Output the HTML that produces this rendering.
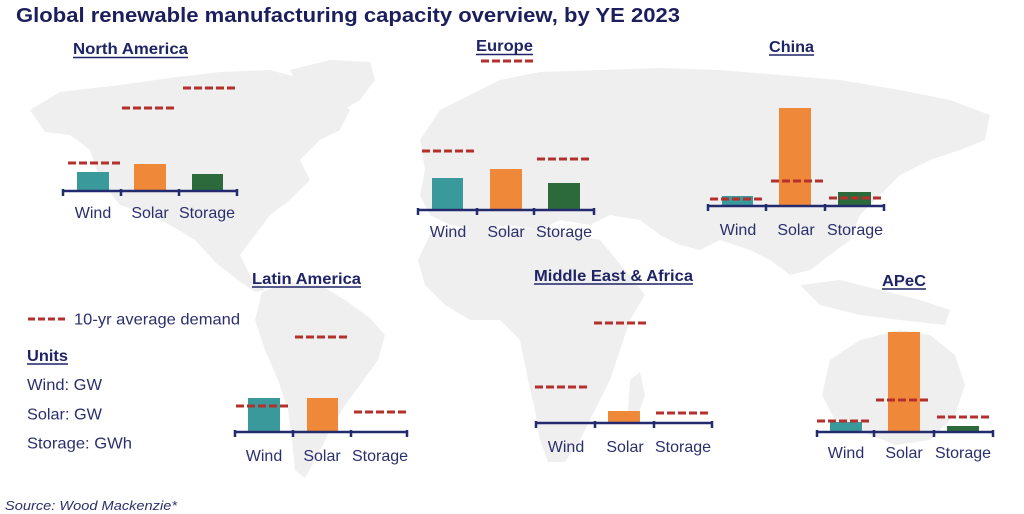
<!DOCTYPE html>
<html><head><meta charset="utf-8"><style>
html,body{margin:0;padding:0;background:#fff;}
svg{display:block;}
text{font-family:"Liberation Sans",Arial,sans-serif;}
</style></head><body>
<svg width="1024" height="514" viewBox="0 0 1024 514" xmlns="http://www.w3.org/2000/svg">
<rect width="1024" height="514" fill="#fff"/>
<!-- world map approximations -->
<g fill="#efefef">
  <!-- North America -->
  <path d="M30,110 L60,92 L120,85 L170,78 L220,72 L270,70 L300,78 L330,90 L350,110 L340,130 L320,140 L300,160 L310,180 L290,200 L270,215 L255,235 L240,255 L250,275 L265,290 L255,292 L235,278 L215,262 L195,240 L170,225 L150,215 L120,205 L100,180 L90,150 L70,135 L45,132 Z"/>
  <!-- Greenland -->
  <path d="M290,70 L330,60 L370,62 L375,80 L360,100 L335,115 L315,105 L300,90 Z"/>
  <!-- South America -->
  <path d="M262,292 L290,282 L320,285 L345,300 L370,318 L385,335 L378,360 L360,385 L345,405 L330,430 L318,455 L305,478 L295,470 L292,440 L288,410 L278,380 L265,350 L255,320 Z"/>
  <!-- Eurasia -->
  <path d="M420,140 L440,110 L470,95 L500,80 L540,72 L600,70 L660,68 L720,70 L780,75 L840,80 L900,90 L950,100 L990,115 L985,140 L960,150 L930,160 L900,175 L880,195 L860,215 L850,240 L830,255 L810,270 L790,275 L770,260 L750,250 L720,240 L700,250 L680,245 L660,235 L640,220 L610,215 L590,225 L560,220 L540,230 L510,225 L480,230 L450,225 L430,215 L420,195 L425,170 Z"/>
  <!-- Africa -->
  <path d="M430,235 L470,228 L520,228 L560,232 L600,240 L625,270 L645,295 L630,320 L620,350 L610,380 L595,410 L580,440 L565,462 L548,462 L540,440 L535,410 L528,380 L520,340 L500,320 L470,320 L445,305 L425,285 L418,260 Z"/>
  <!-- Madagascar -->
  <path d="M630,380 L640,372 L645,395 L636,420 L628,410 Z"/>
  <!-- SE Asia islands -->
  <path d="M800,285 L840,280 L880,290 L920,300 L950,310 L945,325 L900,320 L860,315 L820,305 Z"/>
  <!-- Australia -->
  <path d="M830,360 L860,340 L900,330 L930,335 L955,355 L965,385 L955,415 L930,440 L895,445 L860,430 L835,420 L822,395 Z"/>
</g>

<!-- Main title -->
<text x="16" y="22" font-size="20" font-weight="bold" fill="#1c1f5c" textLength="664" lengthAdjust="spacingAndGlyphs">Global renewable manufacturing capacity overview, by YE 2023</text>

<!-- Region titles -->
<g font-size="16" font-weight="bold" fill="#1f2466">
  <text x="73" y="54" textLength="115" lengthAdjust="spacingAndGlyphs">North America</text>
  <text x="476" y="51" textLength="57" lengthAdjust="spacingAndGlyphs">Europe</text>
  <text x="769" y="52" textLength="45" lengthAdjust="spacingAndGlyphs">China</text>
  <text x="252" y="284" textLength="109" lengthAdjust="spacingAndGlyphs">Latin America</text>
  <text x="534" y="281" textLength="159" lengthAdjust="spacingAndGlyphs">Middle East &amp; Africa</text>
  <text x="882" y="286" textLength="44" lengthAdjust="spacingAndGlyphs">APeC</text>
</g>
<g stroke="#1f2466" stroke-width="1.5">
  <line x1="73" y1="57.5" x2="188" y2="57.5"/>
  <line x1="476" y1="54.5" x2="533" y2="54.5"/>
  <line x1="769" y1="55" x2="814" y2="55"/>
  <line x1="252" y1="287" x2="361" y2="287"/>
  <line x1="534" y1="284" x2="693" y2="284"/>
  <line x1="882" y1="289" x2="926" y2="289"/>
</g>

<!-- Bars -->
<g>
  <rect x="77" y="172" width="32" height="18" fill="#3a9a9b"/>
  <rect x="134" y="164" width="32" height="26" fill="#f0883a"/>
  <rect x="192" y="174" width="31" height="16" fill="#2c6a3c"/>
  <rect x="432" y="178" width="31" height="31" fill="#3a9a9b"/>
  <rect x="490" y="169" width="32" height="40" fill="#f0883a"/>
  <rect x="548" y="183" width="32" height="26" fill="#2c6a3c"/>
  <rect x="722" y="196" width="31" height="9" fill="#3a9a9b"/>
  <rect x="779" y="108" width="32" height="97" fill="#f0883a"/>
  <rect x="838" y="192" width="33" height="13" fill="#2c6a3c"/>
  <rect x="248" y="398" width="32" height="33" fill="#3a9a9b"/>
  <rect x="307" y="398" width="31" height="33" fill="#f0883a"/>
  <rect x="608" y="411" width="32" height="11" fill="#f0883a"/>
  <rect x="830" y="422" width="32" height="9" fill="#3a9a9b"/>
  <rect x="888" y="332" width="32" height="99" fill="#f0883a"/>
  <rect x="947" y="426" width="32" height="5" fill="#2c6a3c"/>
</g>

<!-- Axes -->
<g stroke="#232a6e" stroke-width="2.5" fill="none">
  <path d="M63,191 H237 M63,189 V196 M121,189 V196 M179,189 V196 M237,189 V196"/>
  <path d="M418,210 H594 M418,208 V215 M477,208 V215 M534,208 V215 M594,208 V215"/>
  <path d="M708,206 H884 M708,204 V211 M766,204 V211 M825,204 V211 M884,204 V211"/>
  <path d="M235,432 H407 M235,430 V437 M293,430 V437 M351,430 V437 M407,430 V437"/>
  <path d="M536,423 H712 M536,421 V428 M595,421 V428 M654,421 V428 M712,421 V428"/>
  <path d="M817,432 H993 M817,430 V437 M874,430 V437 M934,430 V437 M993,430 V437"/>
</g>

<!-- Demand dashes -->
<g stroke="#b3302c" stroke-width="3" stroke-dasharray="8 3" fill="none">
  <line x1="68" y1="163" x2="122" y2="163"/>
  <line x1="122" y1="108" x2="176" y2="108"/>
  <line x1="183" y1="88" x2="237" y2="88"/>
  <line x1="481" y1="61" x2="535" y2="61"/>
  <line x1="422" y1="151" x2="476" y2="151"/>
  <line x1="537" y1="159" x2="591" y2="159"/>
  <line x1="710" y1="199" x2="764" y2="199"/>
  <line x1="771" y1="181" x2="825" y2="181"/>
  <line x1="829" y1="198" x2="883" y2="198"/>
  <line x1="236" y1="406" x2="290" y2="406"/>
  <line x1="295" y1="337" x2="349" y2="337"/>
  <line x1="354" y1="412" x2="408" y2="412"/>
  <line x1="535" y1="387" x2="589" y2="387"/>
  <line x1="594" y1="323" x2="648" y2="323"/>
  <line x1="656" y1="413" x2="710" y2="413"/>
  <line x1="817" y1="421" x2="871" y2="421"/>
  <line x1="876" y1="400" x2="930" y2="400"/>
  <line x1="937" y1="417" x2="991" y2="417"/>
  <line x1="28" y1="319" x2="65" y2="319" stroke-dasharray="7 3"/>
</g>

<!-- Category labels -->
<g font-size="16" fill="#2b2f6b" text-anchor="middle">
  <text x="93" y="218">Wind</text><text x="150" y="218">Solar</text><text x="207" y="218">Storage</text>
  <text x="448" y="237">Wind</text><text x="506" y="237">Solar</text><text x="564" y="237">Storage</text>
  <text x="738" y="235">Wind</text><text x="796" y="235">Solar</text><text x="855" y="235">Storage</text>
  <text x="264" y="461">Wind</text><text x="322" y="461">Solar</text><text x="380" y="461">Storage</text>
  <text x="566" y="452">Wind</text><text x="625" y="452">Solar</text><text x="683" y="452">Storage</text>
  <text x="846" y="458">Wind</text><text x="904" y="458">Solar</text><text x="963" y="458">Storage</text>
</g>

<!-- Legend and units -->
<g fill="#2b2f6b" font-size="16">
  <text x="74" y="324.5" textLength="166" lengthAdjust="spacingAndGlyphs">10-yr average demand</text>
  <text x="27" y="361" font-weight="bold" fill="#1f2466" textLength="41" lengthAdjust="spacingAndGlyphs">Units</text>
  <text x="27" y="390" textLength="75" lengthAdjust="spacingAndGlyphs">Wind: GW</text>
  <text x="27" y="419.5" textLength="75" lengthAdjust="spacingAndGlyphs">Solar: GW</text>
  <text x="27" y="448.5" textLength="105" lengthAdjust="spacingAndGlyphs">Storage: GWh</text>
</g>
<line x1="27" y1="364" x2="68" y2="364" stroke="#1f2466" stroke-width="1.5"/>

<text x="5" y="510" font-size="13" font-style="italic" fill="#2b2f6b" textLength="172" lengthAdjust="spacingAndGlyphs">Source: Wood Mackenzie*</text>
</svg>
</body></html>
